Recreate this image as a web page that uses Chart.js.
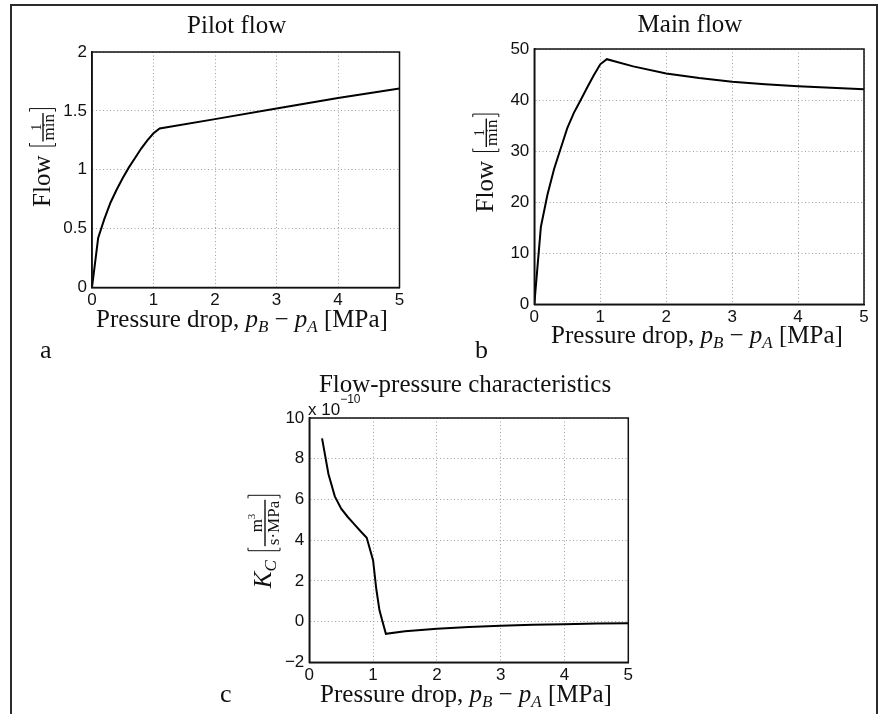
<!DOCTYPE html>
<html><head><meta charset="utf-8">
<script src="https://cdn.jsdelivr.net/npm/chart.js@4"></script>
<style>
html,body{margin:0;padding:0;background:#fff;width:879px;height:714px;overflow:hidden;}
canvas{position:absolute;left:0;top:0;}
#frame{position:absolute;left:10px;top:4px;width:864px;height:760px;border:2px solid #2b2b2b;}
</style></head><body>
<div id="frame"></div>
<canvas id="ca" width="879" height="714" style="width:879px;height:714px"></canvas>
<canvas id="cb" width="879" height="714" style="width:879px;height:714px"></canvas>
<canvas id="cc" width="879" height="714" style="width:879px;height:714px"></canvas>
<script>
// ---------- data ----------
const pressureTicks = [0, 1, 2, 3, 4, 5];           // MPa

const pilotX = [0, 0.1, 0.2, 0.3, 0.4, 0.5, 0.6, 0.7, 0.8, 0.9, 1.0, 1.1, 2, 3, 4, 5];
const pilotY = [0, 0.42, 0.58, 0.72, 0.83, 0.93, 1.02, 1.10, 1.18, 1.25, 1.31, 1.35, 1.43, 1.52, 1.61, 1.69];
const pilotTicks = [0, 0.5, 1, 1.5, 2];

const mainX = [0, 0.1, 0.2, 0.3, 0.4, 0.5, 0.6, 0.7, 0.8, 0.9, 1.0, 1.1, 1.5, 2, 2.5, 3, 3.5, 4, 4.5, 5];
const mainY = [0, 15.2, 21.5, 26.5, 30.5, 34.5, 37.5, 39.9, 42.4, 44.8, 47, 48, 46.6, 45.2, 44.3, 43.6, 43.1, 42.7, 42.4, 42.1];
const mainTicks = [0, 10, 20, 30, 40, 50];

const kcX = [0.2, 0.3, 0.4, 0.5, 0.6, 0.7, 0.8, 0.9, 1.0, 1.05, 1.1, 1.2, 1.5, 2, 2.5, 3, 3.5, 4, 4.5, 5];
const kcY = [9.0, 7.25, 6.15, 5.55, 5.15, 4.8, 4.45, 4.12, 3.0, 1.6, 0.55, -0.6, -0.47, -0.35, -0.27, -0.2, -0.16, -0.13, -0.1, -0.08]; // x 10^-10
const kcTicks = [-2, 0, 2, 4, 6, 8, 10];

const titles = ['Pilot flow', 'Main flow', 'Flow-pressure characteristics'];
const panelLetters = ['a', 'b', 'c'];

// ---------- styling helpers ----------
const SERIF = '"Liberation Serif", "Times New Roman", serif';
const SANS = '"Liberation Sans", Arial, sans-serif';
const F = s => `${s}px ${SERIF}`;
const FI = s => `italic ${s}px ${SERIF}`;
const FS = s => `${s}px ${SANS}`;
const fmt = v => (v < 0 ? '\u2212' : '') + Math.abs(v);

function pw(ctx, p) {
  if (p.gap != null) return p.gap;
  if (p.br) return 5;
  if (p.frac) return Math.max(rw(ctx, p.num), rw(ctx, p.den)) + 4;
  ctx.font = p.f; return ctx.measureText(p.t).width;
}
function rw(ctx, run) { return run.reduce((s, p) => s + pw(ctx, p), 0); }
function drawRun(ctx, run, x, y) {
  for (const p of run) {
    const w = pw(ctx, p);
    if (p.t != null) { ctx.font = p.f; ctx.fillText(p.t, x, y + (p.dy || 0)); }
    else if (p.br) {
      ctx.beginPath();
      const vx = p.br === 'l' ? x + 1.5 : x + 3.5;
      const sx = p.br === 'l' ? x + 4.5 : x + 0.5;
      ctx.moveTo(sx, y + p.top); ctx.lineTo(vx, y + p.top); ctx.lineTo(vx, y + p.bot); ctx.lineTo(sx, y + p.bot);
      ctx.lineWidth = 1; ctx.stroke();
    } else if (p.frac) {
      const nw = rw(ctx, p.num), dw = rw(ctx, p.den);
      const by = y + p.bar;
      ctx.fillRect(x + 1, by - 0.7, w - 2, 1.4);
      drawRun(ctx, p.num, x + (w - nw) / 2, by - p.ng);
      drawRun(ctx, p.den, x + (w - dw) / 2, by + p.dg);
    }
    x += w;
  }
}

const xLabelRun = [
  {t: 'Pressure drop, ', f: F(25)}, {t: 'p', f: FI(25)}, {t: 'B', f: FI(17), dy: 5},
  {t: ' \u2212 ', f: F(25)}, {t: 'p', f: FI(25)}, {t: 'A', f: FI(17), dy: 5}, {t: ' [MPa]', f: F(25)}
];
const flowLabelRun = [
  {t: 'Flow', f: F(25)}, {gap: 8},
  {br: 'l', top: -20, bot: 6},
  {frac: true, num: [{t: '1', f: F(14)}], den: [{t: 'min', f: F(17)}], bar: -6.5, ng: 2.5, dg: 10.5},
  {br: 'r', top: -20, bot: 6}
];
const kcLabelRun = [
  {t: 'K', f: FI(25)}, {t: 'C', f: FI(17), dy: 5}, {gap: 8},
  {br: 'l', top: -23, bot: 9},
  {frac: true, num: [{t: 'm', f: F(17)}, {t: '3', f: F(11), dy: -7}], den: [{t: 's\u00b7MPa', f: F(17)}], bar: -6, ng: 3, dg: 14},
  {br: 'r', top: -23, bot: 9}
];

const LABELS = {
  ca: {title: {t: titles[0], cx: 236.7, by: 33.3}, x: {cx: 242, by: 326.5}, y: {bx: 49.5, cy: 157},
       extra: [{run: [{t: panelLetters[0], f: F(26)}], x: 40, y: 358}]},
  cb: {title: {t: titles[1], cx: 690, by: 31.7}, x: {cx: 697, by: 343.3}, y: {bx: 492.8, cy: 162.5},
       extra: [{run: [{t: panelLetters[1], f: F(26)}], x: 475, y: 358}]},
  cc: {title: {t: titles[2], cx: 465, by: 391.7}, x: {cx: 466, by: 701.7}, y: {bx: 271, cy: 541}, yRun: kcLabelRun,
       extra: [{run: [{t: panelLetters[2], f: F(26)}], x: 220, y: 702},
               {run: [{t: 'x 10', f: FS(17)}, {t: '\u221210', f: FS(12), dy: -12}], x: 308, y: 415}]}
};

const mathPlugin = {
  id: 'mathLabels',
  afterDraw(chart) {
    const L = LABELS[chart.canvas.id]; if (!L) return;
    const ctx = chart.ctx;
    ctx.save();
    ctx.fillStyle = '#111'; ctx.strokeStyle = '#111'; ctx.textBaseline = 'alphabetic'; ctx.textAlign = 'left';
    const tr = [{t: L.title.t, f: F(25)}];
    drawRun(ctx, tr, L.title.cx - rw(ctx, tr) / 2, L.title.by);
    const xw = rw(ctx, xLabelRun);
    drawRun(ctx, xLabelRun, L.x.cx - xw / 2, L.x.by);
    const yr = L.yRun || flowLabelRun;
    const yw = rw(ctx, yr);
    ctx.save(); ctx.translate(L.y.bx, L.y.cy); ctx.rotate(-Math.PI / 2);
    drawRun(ctx, yr, -yw / 2, 0);
    ctx.restore();
    for (const e of L.extra) drawRun(ctx, e.run, e.x, e.y);
    ctx.restore();
  }
};
const boxPlugin = {
  id: 'boxFrame',
  afterDatasetsDraw(chart) {
    const a = chart.chartArea, ctx = chart.ctx;
    ctx.save(); ctx.strokeStyle = '#111'; ctx.lineWidth = 1.5;
    ctx.strokeRect(a.left, a.top, a.right - a.left, a.bottom - a.top);
    ctx.restore();
  }
};

function makeChart(id, o) {
  const W = 879, H = 714, XH = 30, YW = 50;
  const tickFont = {family: SANS, size: 17};
  const grid = {color: '#a0a0a0', lineWidth: 1, drawTicks: false};
  const border = {display: true, color: '#111', width: 1.5, dash: [1, 2.5]};
  return new Chart(document.getElementById(id), {
    type: 'line',
    data: {datasets: [{data: o.xs.map((x, i) => ({x, y: o.ys[i]})), borderColor: '#000', borderWidth: 2,
      pointRadius: 0, tension: 0, fill: false}]},
    options: {
      responsive: false, animation: false, events: [],
      layout: {padding: {left: o.L - YW, right: W - o.R, top: o.T, bottom: H - o.B - XH}},
      plugins: {legend: {display: false}, tooltip: {enabled: false}, title: {display: false}},
      scales: {
        x: {type: 'linear', min: 0, max: 5,
          afterBuildTicks: s => { s.ticks = pressureTicks.map(v => ({value: v})); },
          afterFit: s => { s.height = XH; },
          ticks: {font: tickFont, color: '#111', padding: 3, maxRotation: 0, autoSkip: false, callback: fmt},
          grid, border},
        y: {type: 'linear', min: o.yTicks[0], max: o.yTicks[o.yTicks.length - 1],
          afterBuildTicks: s => { s.ticks = o.yTicks.map(v => ({value: v})); },
          afterFit: s => { s.width = YW; },
          ticks: {font: tickFont, color: '#111', padding: 5, autoSkip: false, callback: fmt},
          grid, border}
      }
    },
    plugins: [boxPlugin, mathPlugin]
  });
}

makeChart('ca', {xs: pilotX, ys: pilotY, yTicks: pilotTicks, L: 92, T: 52, R: 399.5, B: 287.5});
makeChart('cb', {xs: mainX, ys: mainY, yTicks: mainTicks, L: 534.3, T: 49, R: 864, B: 304.3});
makeChart('cc', {xs: kcX, ys: kcY, yTicks: kcTicks, L: 309.3, T: 418, R: 628.3, B: 662.3});
</script>
</body></html>
